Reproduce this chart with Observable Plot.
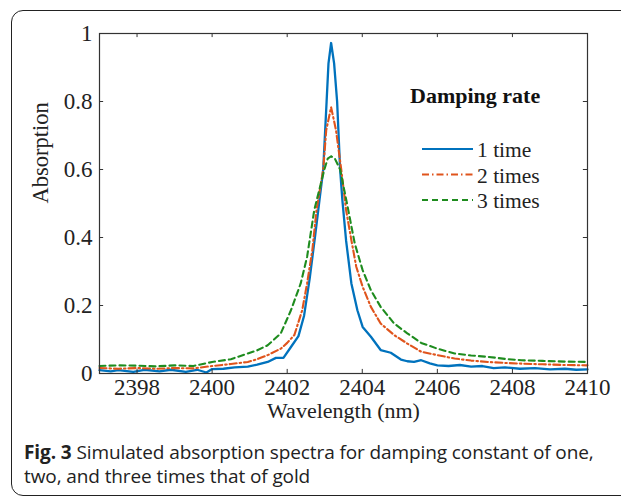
<!DOCTYPE html>
<html>
<head>
<meta charset="utf-8">
<script src="https://cdn.jsdelivr.net/npm/d3@7"></script>
<script src="https://cdn.jsdelivr.net/npm/@observablehq/plot@0.6"></script>
<style>
  html, body { margin: 0; padding: 0; background: #fff; }
  #wrap { position: relative; width: 621px; height: 496px; overflow: hidden; background: #fff; }
  #box { position: absolute; left: 11px; top: 10px; width: 700px; height: 484px; border: 1.5px solid #222; border-radius: 12px; }
  #chart { position: absolute; left: 0; top: 0; }
  #legend { position: absolute; left: 0; top: 0; pointer-events: none; }
  #caption { position: absolute; left: 24px; top: 440px; width: 592px; font-family: "Open Sans", sans-serif; font-size: 19px; line-height: 24px; letter-spacing: -0.1px; color: #222; white-space: nowrap; }
  #caption b { font-weight: 700; }
</style>
</head>
<body>
<div id="wrap">
  <div id="box"></div>
  <div id="chart"></div>
  <svg id="legend" width="621" height="430"></svg>
  <div id="caption"><b>Fig. 3</b><span> Simulated absorption spectra for damping constant of one,</span><br><span>two, and three times that of gold</span></div>
</div>
<script>
// ---- data ----
const xTicks = [2398, 2400, 2402, 2404, 2406, 2408, 2410];
const yTicks = [0, 0.2, 0.4, 0.6, 0.8, 1];
const seriesNames = ["1 time", "2 times", "3 times"];
const seriesColors = ["#0072BD", "#E0541C", "#1E8C1E"];
const seriesDash = [null, "7,3,1.5,3", "6,4"];

const wl1 = [2397.0,2397.3,2397.5,2397.9,2398.2,2398.6,2398.9,2399.3,2399.6,2399.85,2400.0,2400.3,2400.6,2400.95,2401.2,2401.48,2401.7,2401.9,2402.1,2402.3,2402.45,2402.6,2402.75,2402.86,2402.96,2403.05,2403.1,2403.17,2403.25,2403.33,2403.41,2403.47,2403.57,2403.71,2403.87,2404.01,2404.23,2404.49,2404.76,2405.03,2405.2,2405.38,2405.57,2405.8,2406.0,2406.3,2406.6,2406.9,2407.2,2407.5,2407.8,2408.2,2408.6,2409.0,2409.4,2409.7,2410.0];
const abs1 = [0.010,0.006,0.010,0.005,0.011,0.006,0.011,0.005,0.011,0.003,0.013,0.014,0.018,0.020,0.026,0.034,0.046,0.046,0.078,0.110,0.170,0.280,0.410,0.510,0.600,0.800,0.912,0.972,0.912,0.800,0.600,0.510,0.390,0.265,0.186,0.137,0.108,0.069,0.061,0.041,0.036,0.034,0.039,0.030,0.024,0.022,0.025,0.020,0.022,0.016,0.018,0.014,0.016,0.012,0.014,0.011,0.012];

const wl2 = [2397.0,2397.5,2398.0,2398.5,2399.0,2399.5,2400.0,2400.5,2400.95,2401.2,2401.48,2401.83,2402.0,2402.19,2402.4,2402.53,2402.67,2402.78,2402.96,2403.04,2403.17,2403.3,2403.44,2403.57,2403.71,2403.84,2404.01,2404.23,2404.49,2404.85,2405.2,2405.57,2406.0,2406.46,2406.9,2407.35,2407.8,2408.24,2408.8,2409.4,2410.0];
const abs2 = [0.016,0.014,0.016,0.014,0.016,0.015,0.022,0.028,0.034,0.042,0.054,0.073,0.090,0.113,0.186,0.265,0.363,0.480,0.600,0.716,0.783,0.716,0.600,0.480,0.392,0.314,0.255,0.196,0.147,0.113,0.088,0.064,0.054,0.044,0.038,0.034,0.031,0.029,0.027,0.025,0.024];

const wl3 = [2397.0,2397.5,2398.0,2398.5,2399.0,2399.5,2400.0,2400.5,2400.95,2401.2,2401.48,2401.83,2402.1,2402.36,2402.53,2402.72,2402.99,2403.08,2403.17,2403.27,2403.41,2403.62,2403.8,2404.01,2404.23,2404.49,2404.85,2405.2,2405.57,2406.0,2406.46,2406.9,2407.35,2407.8,2408.24,2408.8,2409.4,2410.0];
const abs3 = [0.022,0.024,0.023,0.021,0.024,0.022,0.034,0.042,0.059,0.068,0.083,0.118,0.186,0.265,0.343,0.480,0.600,0.632,0.639,0.632,0.600,0.485,0.382,0.304,0.245,0.196,0.147,0.118,0.090,0.073,0.059,0.053,0.049,0.043,0.039,0.037,0.035,0.034];

const xLabel = "Wavelength (nm)";
const yLabel = "Absorption";
const legendTitle = "Damping rate";

// ---- build ----
const toRows = (wl, ab) => wl.map((w, i) => ({w, a: ab[i]}));
const series = [toRows(wl1, abs1), toRows(wl2, abs2), toRows(wl3, abs3)];

const xDomain = [2397, 2410];
const tickLenX = 0.11;   // inward tick length in nm
const tickLenY = 0.012;  // inward tick length in absorption units
const fmtY = d => String(+d.toFixed(1));
const serif = "'Liberation Serif', 'Times New Roman', serif";

const chart = Plot.plot({
  width: 621,
  height: 430,
  marginLeft: 99,
  marginRight: 34,
  marginTop: 33,
  marginBottom: 57,
  x: {domain: xDomain},
  y: {domain: [0, 1]},
  style: {fontFamily: serif, fontSize: "23px", color: "#222", background: "transparent", overflow: "visible"},
  marks: [
    ...series.map((rows, i) => Plot.line(rows, {
      x: "w", y: "a",
      stroke: seriesColors[i],
      strokeWidth: i === 0 ? 2.3 : 2.1,
      strokeDasharray: seriesDash[i] || undefined,
      strokeLinejoin: "round"
    })),
    Plot.frame({stroke: "#333", strokeWidth: 1.2}),
    Plot.ruleX(xTicks, {x: d => d, y1: 0, y2: tickLenY, stroke: "#333"}),
    Plot.ruleX(xTicks, {x: d => d, y1: 1, y2: 1 - tickLenY, stroke: "#333"}),
    Plot.ruleY(yTicks, {y: d => d, x1: xDomain[0], x2: xDomain[0] + tickLenX, stroke: "#333"}),
    Plot.ruleY(yTicks, {y: d => d, x1: xDomain[1], x2: xDomain[1] - tickLenX, stroke: "#333"}),
    Plot.axisX({ticks: xTicks, tickSize: 0, tickPadding: 5.5, tickFormat: d => String(d), label: null, fontSize: 23}),
    Plot.axisY({ticks: yTicks, tickSize: 0, tickPadding: 7, tickFormat: fmtY, label: null, fontSize: 23}),
    Plot.text([xLabel], {text: d => d, frameAnchor: "bottom", dy: 44, fontSize: 22, fill: "#222"}),
    Plot.text([yLabel], {text: d => d, frameAnchor: "left", rotate: -90, dx: -59, fontSize: 22.5, fill: "#222"})
  ]
});
document.getElementById("chart").appendChild(chart);

// ---- legend overlay ----
const lg = d3.select("#legend");
lg.append("text").attr("x", 410).attr("y", 103)
  .attr("font-family", serif).attr("font-weight", "bold").attr("font-size", 22).attr("fill", "#111")
  .text(legendTitle);
seriesNames.forEach((name, i) => {
  const y = 149 + i * 25.5;
  lg.append("line").attr("x1", 422).attr("x2", 473).attr("y1", y).attr("y2", y)
    .attr("stroke", seriesColors[i]).attr("stroke-width", 2.2)
    .attr("stroke-dasharray", seriesDash[i]);
  lg.append("text").attr("x", 477).attr("y", y + 8)
    .attr("font-family", serif).attr("font-size", 21.5).attr("fill", "#222")
    .text(name);
});
</script>
</body>
</html>
